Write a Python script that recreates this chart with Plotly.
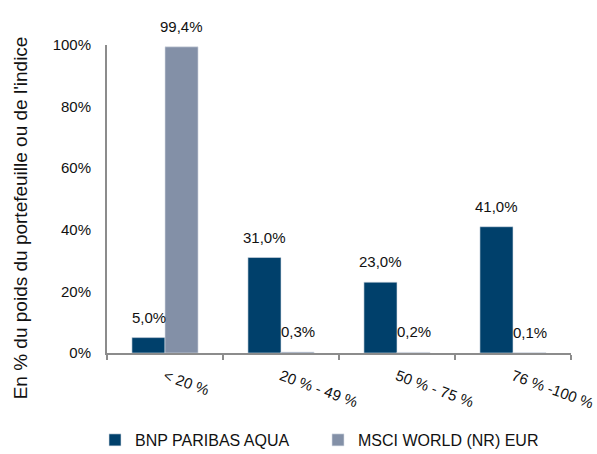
import plotly.graph_objects as go

categories = ["< 20 %", "20 % - 49 %", "50 % - 75 %", "76 % -100 %"]
bnp_values = [5.0, 31.0, 23.0, 41.0]
msci_values = [99.4, 0.3, 0.2, 0.1]
series_names = ["BNP PARIBAS AQUA", "MSCI WORLD (NR) EUR"]
y_ticks = [0, 20, 40, 60, 80, 100]
y_title = "En % du poids du portefeuille ou de l'indice"

FONT = "Liberation Sans, Arial, sans-serif"
C_BNP = "#00406B"
C_MSCI = "#8390A7"
TXT = "#111111"

def fmt(v):
    return f"{v:.1f}%".replace(".", ",")

fig = go.Figure()
fig.add_trace(go.Bar(x=categories, y=bnp_values, name=series_names[0],
                     marker=dict(color=C_BNP, line=dict(color="#D9DEE6", width=0.6))))
fig.add_trace(go.Bar(x=categories, y=msci_values, name=series_names[1],
                     marker=dict(color=C_MSCI, line=dict(color="#D9DEE6", width=0.6))))

for vals, xs in ((bnp_values, -16.5), (msci_values, 16.5)):
    for c, v in zip(categories, vals):
        fig.add_annotation(x=c, y=v, text=fmt(v), showarrow=False,
                           xshift=xs, yshift=10, yanchor="bottom",
                           font=dict(family=FONT, size=15, color=TXT))

fig.add_annotation(xref="paper", yref="paper", x=-0.187, y=0.438,
                   text=y_title, textangle=-90, showarrow=False,
                   xanchor="center", yanchor="middle",
                   font=dict(family=FONT, size=19, color=TXT))

fig.update_layout(
    width=597, height=454,
    margin=dict(l=107, r=26, t=45, b=101),
    paper_bgcolor="white", plot_bgcolor="white",
    barmode="group", bargap=0.43, bargroupgap=0,
    font=dict(family=FONT, size=15, color=TXT),
    showlegend=True,
    legend=dict(orientation="h",
                xref="container", x=95 / 597, xanchor="left",
                yref="container", y=(454 - 440) / 454, yanchor="middle",
                font=dict(family=FONT, size=16, color=TXT),
                itemwidth=30, traceorder="normal", entrywidth=178,
                tracegroupgap=0),
)
fig.update_xaxes(showline=True, linecolor="#8C8C8C", linewidth=2,
                 ticks="outside", tickson="boundaries", ticklen=5,
                 tickcolor="#8C8C8C", tickwidth=2, tickangle=20,
                 showgrid=False, automargin=False, ticklabelstandoff=7,
                 tickfont=dict(family=FONT, size=15, color=TXT))
fig.update_yaxes(range=[0, 100], tickvals=y_ticks,
                 ticktext=[f"{t}%" for t in y_ticks],
                 showline=True, linecolor="#8C8C8C", linewidth=2,
                 ticks="", showgrid=False, zeroline=False, automargin=False,
                 ticklabelstandoff=11,
                 tickfont=dict(family=FONT, size=15, color=TXT))

fig.write_html("out.html", config={"displayModeBar": False},
               post_script="document.body.style.margin='0';document.body.style.overflow='hidden';")
